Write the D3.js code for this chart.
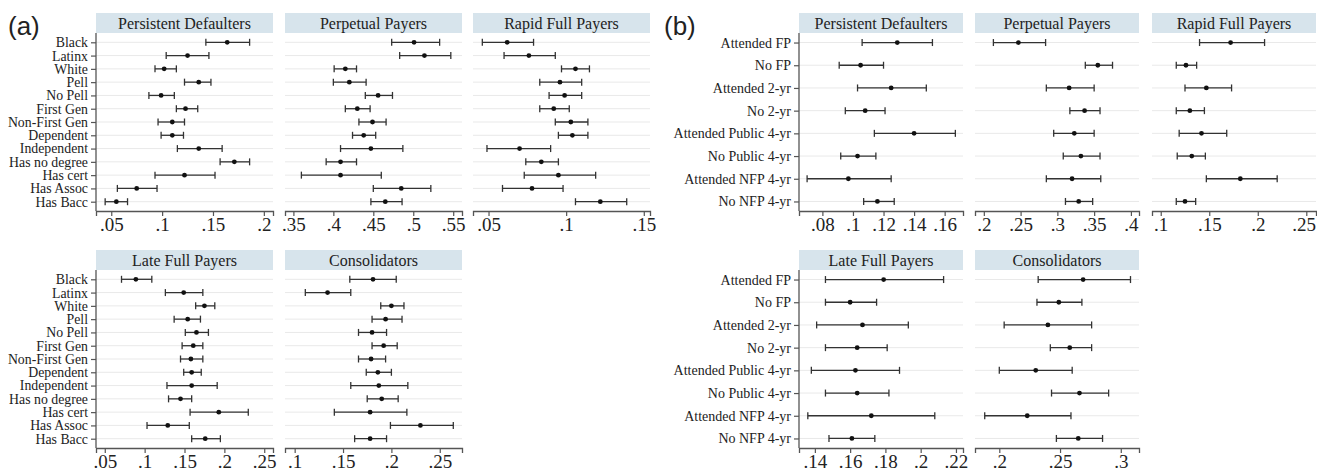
<!DOCTYPE html>
<html>
<head>
<meta charset="utf-8">
<script src="https://cdn.jsdelivr.net/npm/d3@7"></script>
<style>
  body { margin: 0; background: #fff; }
  svg text { font-family: "Liberation Serif", "Times New Roman", serif; fill: #222; }
  svg text.letter { font-family: "Liberation Sans", Arial, sans-serif; }
</style>
</head>
<body>
<div id="app"></div>
<script>
// row labels
const groupsA = ["Black", "Latinx", "White", "Pell", "No Pell", "First Gen", "Non-First Gen",
  "Dependent", "Independent", "Has no degree", "Has cert", "Has Assoc", "Has Bacc"];
const groupsB = ["Attended FP", "No FP", "Attended 2-yr", "No 2-yr", "Attended Public 4-yr",
  "No Public 4-yr", "Attended NFP 4-yr", "No NFP 4-yr"];

// [lower CI, estimate, upper CI] per row
const aPersistent = [[.143,.164,.186],[.104,.125,.146],[.093,.102,.114],[.122,.136,.148],[.087,.099,.112],
  [.114,.123,.135],[.096,.110,.122],[.099,.110,.121],[.115,.136,.159],[.157,.171,.186],[.093,.122,.152],
  [.056,.075,.095],[.044,.055,.066]];
const aPerpetual = [[.473,.501,.533],[.483,.514,.547],[.401,.415,.429],[.400,.420,.441],[.440,.456,.474],
  [.415,.430,.446],[.432,.449,.466],[.424,.438,.453],[.409,.447,.487],[.391,.409,.429],[.360,.409,.460],
  [.450,.485,.522],[.447,.465,.486]];
const aRapid = [[.046,.062,.079],[.060,.076,.093],[.097,.106,.115],[.083,.096,.110],[.089,.099,.110],
  [.083,.092,.102],[.093,.103,.114],[.095,.104,.114],[.049,.070,.090],[.074,.084,.095],[.073,.095,.119],
  [.059,.078,.098],[.106,.122,.139]];
const aLate = [[.071,.089,.109],[.126,.149,.173],[.164,.175,.188],[.137,.154,.170],[.151,.165,.180],
  [.147,.161,.173],[.145,.158,.173],[.149,.159,.171],[.128,.159,.191],[.130,.145,.159],[.157,.193,.230],
  [.103,.129,.156],[.159,.176,.195]];
const aConsol = [[.157,.181,.205],[.111,.134,.158],[.189,.200,.213],[.180,.194,.211],[.166,.180,.195],
  [.180,.192,.206],[.166,.179,.194],[.174,.186,.200],[.158,.187,.217],[.175,.190,.207],[.141,.178,.216],
  [.199,.230,.264],[.162,.178,.195]];

const bPersistent = [[.106,.129,.152],[.091,.105,.120],[.103,.125,.148],[.095,.108,.121],
  [.114,.140,.167],[.092,.103,.115],[.070,.097,.125],[.107,.116,.127]];
const bPerpetual = [[.213,.247,.284],[.338,.355,.375],[.285,.316,.350],[.317,.337,.358],
  [.295,.323,.350],[.308,.332,.358],[.285,.320,.359],[.311,.329,.348]];
const bRapid = [[.140,.172,.207],[.116,.126,.137],[.125,.147,.173],[.116,.130,.145],
  [.119,.142,.168],[.117,.132,.146],[.147,.182,.220],[.116,.125,.136]];
const bLate = [[.146,.179,.213],[.146,.160,.175],[.141,.167,.193],[.146,.164,.181],
  [.138,.163,.188],[.146,.164,.182],[.136,.172,.208],[.148,.161,.174]];
const bConsol = [[.232,.269,.308],[.231,.249,.268],[.204,.240,.276],[.242,.258,.276],
  [.200,.230,.260],[.243,.266,.290],[.188,.223,.259],[.247,.265,.285]];

// tick labels
const ticksAPersistent = [.05, .1, .15, .2];
const ticksAPerpetual = [.35, .4, .45, .5, .55];
const ticksARapid = [.05, .1, .15];
const ticksALate = [.05, .1, .15, .2, .25];
const ticksAConsol = [.1, .15, .2, .25];
const ticksBPersistent = [.08, .1, .12, .14, .16];
const ticksBPerpetual = [.2, .25, .3, .35, .4];
const ticksBRapid = [.1, .15, .2, .25];
const ticksBLate = [.14, .16, .18, .2, .22];
const ticksBConsol = [.2, .25, .3];

const W = 1317, H = 472;
const svg = d3.select("#app").append("svg").attr("width", W).attr("height", H);

// stata style: ".05" instead of "0.05"
const fmt = v => String(v).replace(/^0/, "");

// panel layout: left x, top of header, width, x domain
const panels = [
  { title: "Persistent Defaulters", rows: groupsA, data: aPersistent, ticks: ticksAPersistent, x: 96, y: 13, w: 177, dom: [.035, .209], yaxis: true },
  { title: "Perpetual Payers", rows: groupsA, data: aPerpetual, ticks: ticksAPerpetual, x: 285, y: 13, w: 177, dom: [.3395, .561] },
  { title: "Rapid Full Payers", rows: groupsA, data: aRapid, ticks: ticksARapid, x: 473, y: 13, w: 177, dom: [.040, .154] },
  { title: "Late Full Payers", rows: groupsA, data: aLate, ticks: ticksALate, x: 96, y: 250, w: 177, dom: [.039, .261], yaxis: true },
  { title: "Consolidators", rows: groupsA, data: aConsol, ticks: ticksAConsol, x: 285, y: 250, w: 177, dom: [.090, .273] },
  { title: "Persistent Defaulters", rows: groupsB, data: bPersistent, ticks: ticksBPersistent, x: 799, y: 13, w: 164, dom: [.0647, .172], yaxis: true },
  { title: "Perpetual Payers", rows: groupsB, data: bPerpetual, ticks: ticksBPerpetual, x: 975, y: 13, w: 164, dom: [.188, .411] },
  { title: "Rapid Full Payers", rows: groupsB, data: bRapid, ticks: ticksBRapid, x: 1152, y: 13, w: 164, dom: [.091, .260] },
  { title: "Late Full Payers", rows: groupsB, data: bLate, ticks: ticksBLate, x: 799, y: 250, w: 164, dom: [.131, .224], yaxis: true },
  { title: "Consolidators", rows: groupsB, data: bConsol, ticks: ticksBConsol, x: 975, y: 250, w: 164, dom: [.180, .315] }
];

const headH = 20, plotH = 178;

panels.forEach(p => {
  const g = svg.append("g").attr("transform", `translate(${p.x},${p.y})`);
  const x = d3.scaleLinear().domain(p.dom).range([0, p.w]);
  const y = d3.scalePoint().domain(p.rows)
    .range([headH, headH + plotH])
    .padding(p.rows.length > 10 ? 0.7 : 0.42);

  // strip header
  g.append("rect").attr("width", p.w).attr("height", headH).attr("fill", "#d7e4ec");
  g.append("text").attr("x", p.w / 2).attr("y", headH / 2 + 5.5)
    .attr("text-anchor", "middle").style("font-size", "16px").text(p.title);

  // grid lines
  g.selectAll(".grid").data(p.rows).enter().append("line")
    .attr("x1", 0).attr("x2", p.w)
    .attr("y1", d => y(d)).attr("y2", d => y(d))
    .attr("stroke", "#e9e9e9").attr("stroke-width", 1);

  // x axis
  const xa = g.append("g").attr("transform", `translate(0,${headH + plotH})`)
    .call(d3.axisBottom(x).tickValues(p.ticks).tickFormat(fmt).tickSize(5).tickPadding(2));
  xa.attr("font-family", null);
  xa.select(".domain").attr("stroke", "#555").attr("stroke-width", 1.3);
  xa.selectAll(".tick line").attr("stroke", "#555").attr("stroke-width", 1.2);
  xa.selectAll("text").style("font-size", "19px").attr("fill", "#222")
    .each(function() {
      // keep the last label inside the window
      const b = this.getBoundingClientRect();
      if (b.right > W - 1) d3.select(this).attr("dx", -(b.right - W + 1));
    });

  // y axis, left column only
  if (p.yaxis) {
    const ya = g.append("g").call(d3.axisLeft(y).tickSize(5).tickPadding(3));
    ya.attr("font-family", null);
    ya.select(".domain").attr("d", `M0,${headH}V${headH + plotH}`).attr("stroke", "#555").attr("stroke-width", 1.3);
    ya.selectAll(".tick line").attr("stroke", "#555").attr("stroke-width", 1.2);
    ya.selectAll("text").style("font-size", p.rows.length > 10 ? "13.8px" : "14px").attr("fill", "#222");
  }

  // error bars with caps + point estimate
  const bars = g.selectAll(".bar").data(p.data).enter().append("g")
    .attr("transform", (d, i) => `translate(0,${y(p.rows[i])})`);
  bars.append("line").attr("x1", d => x(d[0])).attr("x2", d => x(d[2]))
    .attr("stroke", "#333").attr("stroke-width", 1.3);
  bars.append("line").attr("x1", d => x(d[0])).attr("x2", d => x(d[0]))
    .attr("y1", -3.5).attr("y2", 3.5).attr("stroke", "#333").attr("stroke-width", 1.3);
  bars.append("line").attr("x1", d => x(d[2])).attr("x2", d => x(d[2]))
    .attr("y1", -3.5).attr("y2", 3.5).attr("stroke", "#333").attr("stroke-width", 1.3);
  bars.append("circle").attr("cx", d => x(d[1])).attr("r", 2.4).attr("fill", "#111");
});

// panel letters
svg.append("text").attr("class", "letter").attr("x", 8).attr("y", 35)
  .style("font-size", "26px").text("(a)");
svg.append("text").attr("class", "letter").attr("x", 664).attr("y", 35)
  .style("font-size", "26px").text("(b)");
</script>
</body>
</html>
